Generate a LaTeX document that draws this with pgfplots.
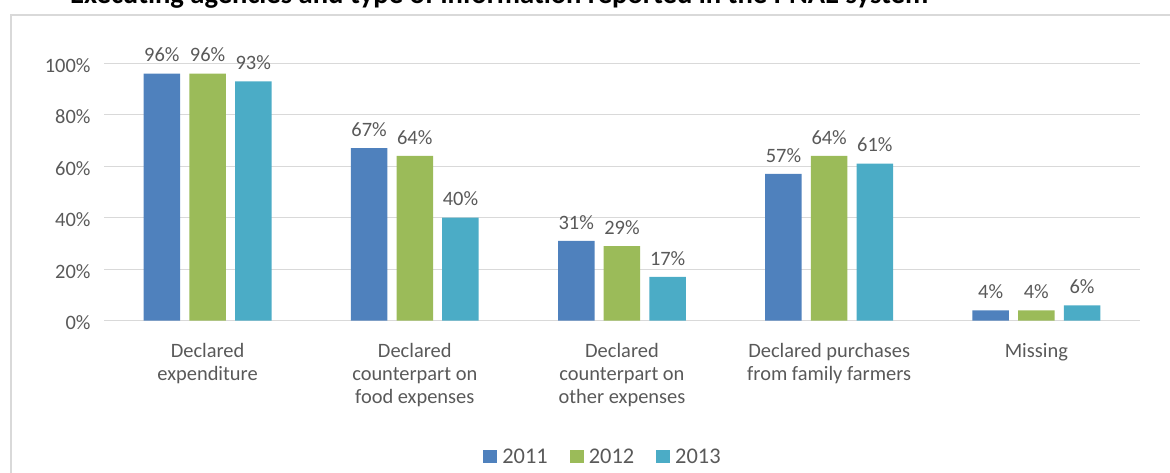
\documentclass[border=0pt]{standalone}
\usepackage{fontspec}
\setmainfont{Carlito}
\usepackage{pgfplots}
\pgfplotsset{compat=1.18}

\definecolor{cblue}{HTML}{4F81BD}
\definecolor{cgreen}{HTML}{9BBB59}
\definecolor{cteal}{HTML}{4BACC6}
\definecolor{txtgray}{HTML}{595959}
\definecolor{gridgray}{HTML}{D9D9D9}

\pgfplotsset{
  legsq/.style={legend image code/.code={\fill[##1] (0bp,-6.5bp) rectangle (14bp,6.5bp);}},
}

\begin{document}
\begin{tikzpicture}
\begin{axis}[
    at={(104bp,152.3bp)}, anchor=south west,
    scale only axis, width=1036bp, height=257.4bp,
    ybar, bar width=36.5bp,
    xmin=-0.5, xmax=4.5, ymin=0, ymax=100,
    xtick={0,1,2,3,4},
    xticklabels={{Declared\\expenditure},
                 {Declared\\counterpart on\\food expenses},
                 {Declared\\counterpart on\\other expenses},
                 {Declared purchases\\from family farmers},
                 {Missing}},
    ytick={0,20,40,60,80,100},
    yticklabels={0\%,20\%,40\%,60\%,80\%,100\%},
    axis x line*=bottom, axis y line*=left,
    y axis line style={draw=none},
    x axis line style={draw=gridgray, line width=1bp},
    xtick style={draw=none}, ytick style={draw=none},
    ymajorgrids, major grid style={draw=gridgray, line width=1bp},
    every tick label/.append style={font=\fontsize{20.5}{23.3}\selectfont, text=txtgray},
    xticklabel style={align=center, anchor=north, inner sep=0pt, yshift=-18bp},
    yticklabel style={anchor=east, inner sep=0pt, xshift=-13.3bp, yshift=-2bp},
    nodes near coords={\pgfmathprintnumber{\pgfplotspointmeta}\%},
    every node near coord/.append style={font=\fontsize{20.5}{24}\selectfont, text=txtgray,
        anchor=south, inner sep=0pt, yshift=11.5bp},
    /pgf/number format/assume math mode=true,
    clip=false,
    legend columns=-1,
    legend style={at={(axis description cs:0.366,-0.5276)}, anchor=west,
        draw=none, fill=none, inner sep=0pt,
        font=\fontsize{22.5}{26}\selectfont, text=txtgray,
        nodes={inner sep=0pt},
        /tikz/every odd column/.append style={column sep=5bp},
        /tikz/every even column/.append style={column sep=22bp}},
]
\addplot[fill=cblue, draw=none, bar shift=-45.7bp, legsq] coordinates {
    (0,96) (1,67) (2,31) (3,57) (4,4)
};
\addplot[fill=cgreen, draw=none, bar shift=0bp, legsq] coordinates {
    (0,96) (1,64) (2,29) (3,64) (4,4)
};
\addplot[fill=cteal, draw=none, bar shift=45.7bp, legsq] coordinates {
    (0,93) (1,40) (2,17) (3,61) (4,6)
};
\legend{2011,2012,2013}
\end{axis}
% chart frame (only left and top edges fall inside the page)
\draw[gridgray, line width=1.5bp] (11bp,-10bp) -- (11bp,458bp) -- (1190bp,458bp);
% title, cut by the top of the page as in the source
\node[anchor=base west, inner sep=0pt] at (70bp,469bp)
    {\resizebox{858bp}{!}{\bfseries Executing agencies and type of information reported in the PNAE system}};
\pgfresetboundingbox
\useasboundingbox (0,0) rectangle (1170bp,473bp);
\end{tikzpicture}
\end{document}
